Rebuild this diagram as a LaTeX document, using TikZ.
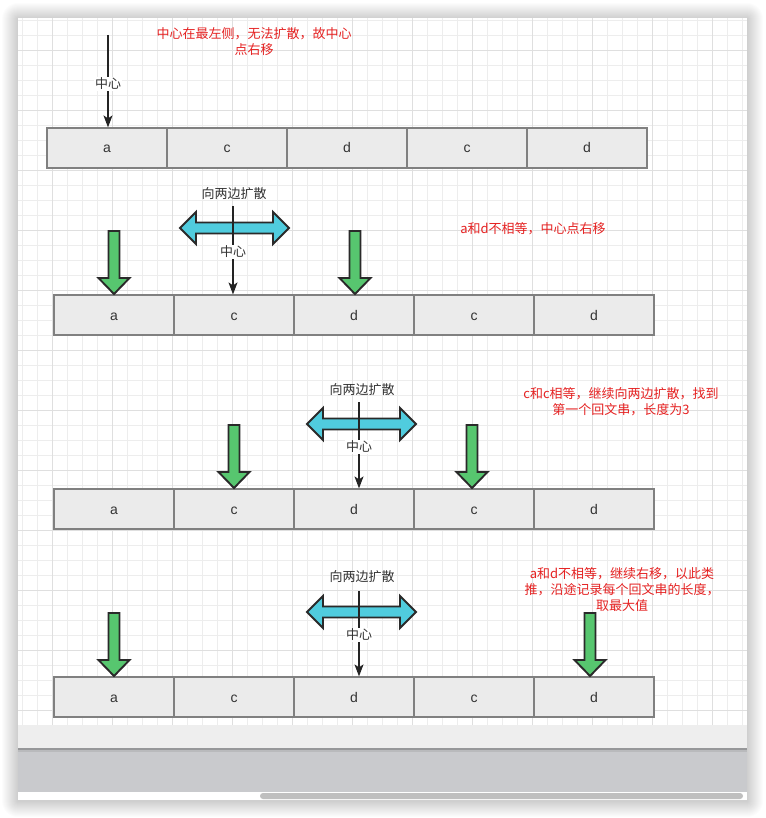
\documentclass[tikz,border=0pt]{standalone}
\usepackage{fontspec}
\setmainfont{Liberation Sans}
\newfontfamily\cjk{Noto Sans CJK SC}
\usetikzlibrary{arrows.meta}
\definecolor{gridminor}{HTML}{EDEDED}
\definecolor{gridmajor}{HTML}{DFDFDF}
\definecolor{cellfill}{HTML}{EBEBEB}
\definecolor{cellline}{HTML}{808080}
\definecolor{txt}{HTML}{333333}
\definecolor{redtxt}{HTML}{E52222}
\definecolor{greenfill}{HTML}{57C66F}
\definecolor{cyanfill}{HTML}{50CCDE}
\definecolor{outline}{HTML}{2A2A2A}
\definecolor{barlight}{HTML}{EEEEEE}
\definecolor{bardark}{HTML}{C9CACD}
\definecolor{scroll}{HTML}{BFBFBF}
\newcommand\greenarrow[3]{% x, ytop, ytip
  \draw[greenshape] (#1-5.5,#2) -- (#1+5.5,#2) -- (#1+5.5,#3-16) -- (#1+15.5,#3-16)
    -- (#1,#3) -- (#1-15.5,#3-16) -- (#1-5.5,#3-16) -- cycle;}
\newcommand\doublearrow[2]{% cx, cy
  \draw[cyanshape] (#1-54.5,#2) -- (#1-38.5,#2-16) -- (#1-38.5,#2-5.5) -- (#1+38.5,#2-5.5)
    -- (#1+38.5,#2-16) -- (#1+54.5,#2) -- (#1+38.5,#2+16) -- (#1+38.5,#2+5.5)
    -- (#1-38.5,#2+5.5) -- (#1-38.5,#2+16) -- cycle;}
\begin{document}
\begin{tikzpicture}[x=1pt,y=-1pt,
  cell/.style={draw=cellline, line width=1.2pt, fill=cellfill, minimum width=120pt,
    minimum height=40pt, inner sep=0pt, text=txt, text height=10pt, text depth=0pt,
    font=\fontsize{14}{16}\selectfont},
  centerlbl/.style={fill=white, inner sep=1pt, text=txt, font=\cjk\fontsize{13}{15}\selectfont},
  spreadlbl/.style={inner sep=0pt, text=txt, font=\cjk\fontsize{13}{15}\selectfont},
  note/.style={inner sep=0pt, text=redtxt, align=center, font=\cjk\fontsize{13}{16}\selectfont},
  ptr/.style={draw=txt!70!black, line width=1.3pt, -{Stealth[length=12pt,width=9pt,inset=3pt]}},
  greenshape/.style={draw=outline, line width=1.9pt, fill=greenfill, line join=miter},
  cyanshape/.style={draw=outline, line width=1.9pt, fill=cyanfill, line join=miter}]
\useasboundingbox (0,0) rectangle (765,818);
\fill[white] (0,0) rectangle (765,818);
% shadow
\foreach \i in {1,...,16}{
  \fill[black, opacity=0.012, rounded corners=\i pt] (18-\i,18-\i+1) rectangle (747+\i,800+\i+1);
}
\fill[white] (18,18) rectangle (747,800);
% grid
\begin{scope}
\clip (18,18) rectangle (747,725);
\foreach \x in {0,...,49}{ \draw[gridminor, line width=0.8pt] (22.7+15*\x,18) -- (22.7+15*\x,725); }
\foreach \y in {0,...,47}{ \draw[gridminor, line width=0.8pt] (18,20+15*\y) -- (747,20+15*\y); }
\foreach \x in {0,...,12}{ \draw[gridmajor, line width=0.9pt] (52.7+60*\x,18) -- (52.7+60*\x,725); }
\foreach \y in {0,...,11}{ \draw[gridmajor, line width=0.9pt] (18,50+60*\y) -- (747,50+60*\y); }
\end{scope}
% bottom bars
\fill[barlight] (18,725) rectangle (747,748);
\fill[bardark] (18,748) rectangle (747,792);
\fill[black, opacity=0.25] (18,747.5) rectangle (747,749.5);
\fill[black, opacity=0.08] (18,749.5) rectangle (747,752);
\fill[white] (18,792) rectangle (747,800);
\fill[scroll, rounded corners=3pt] (260,793) rectangle (743,799);

% ---------- row 1 ----------
\foreach \t [count=\i] in {a,c,d,c,d}{
  \node[cell] (r1c\i) at (107+120*\i-120,148) {\t};
}
\coordinate (p1) at (108,35);
\draw[ptr] (p1) -- (p1 |- r1c1.north);
\node[centerlbl] (l1) at (108,84) {中心};
\node[note] (n1) at (254,41.5) {中心在最左侧，无法扩散，故中心\\点右移};

% ---------- row 2 ----------
\foreach \t [count=\i] in {a,c,d,c,d}{
  \node[cell] (r2c\i) at (114+120*\i-120,315) {\t};
}
\greenarrow{114}{231}{294}
\greenarrow{355}{231}{294}
\doublearrow{234.5}{228}
\node[spreadlbl] (s2) at (234,194) {向两边扩散};
\coordinate (p2) at (233,206);
\draw[ptr] (p2) -- (p2 |- r2c2.north);
\node[centerlbl] (l2) at (233,252) {中心};
\node[note] (n2) at (533,229) {a和d不相等，中心点右移};

% ---------- row 3 ----------
\foreach \t [count=\i] in {a,c,d,c,d}{
  \node[cell] (r3c\i) at (114+120*\i-120,509) {\t};
}
\greenarrow{234}{425}{488}
\greenarrow{472}{425}{488}
\doublearrow{361.5}{424}
\node[spreadlbl] (s3) at (362,390) {向两边扩散};
\coordinate (p3) at (359,402);
\draw[ptr] (p3) -- (p3 |- r3c3.north);
\node[centerlbl] (l3) at (359,447) {中心};
\node[note] (n3) at (621,402) {c和c相等，继续向两边扩散，找到\\第一个回文串，长度为3};

% ---------- row 4 ----------
\foreach \t [count=\i] in {a,c,d,c,d}{
  \node[cell] (r4c\i) at (114+120*\i-120,697) {\t};
}
\greenarrow{114}{613}{676}
\greenarrow{590}{613}{676}
\doublearrow{361.5}{612}
\node[spreadlbl] (s4) at (362,577) {向两边扩散};
\coordinate (p4) at (359,591);
\draw[ptr] (p4) -- (p4 |- r4c3.north);
\node[centerlbl] (l4) at (359,635) {中心};
\node[note] (n4) at (622,589.5) {a和d不相等，继续右移，以此类\\推，沿途记录每个回文串的长度，\\取最大值};
\end{tikzpicture}
\end{document}
